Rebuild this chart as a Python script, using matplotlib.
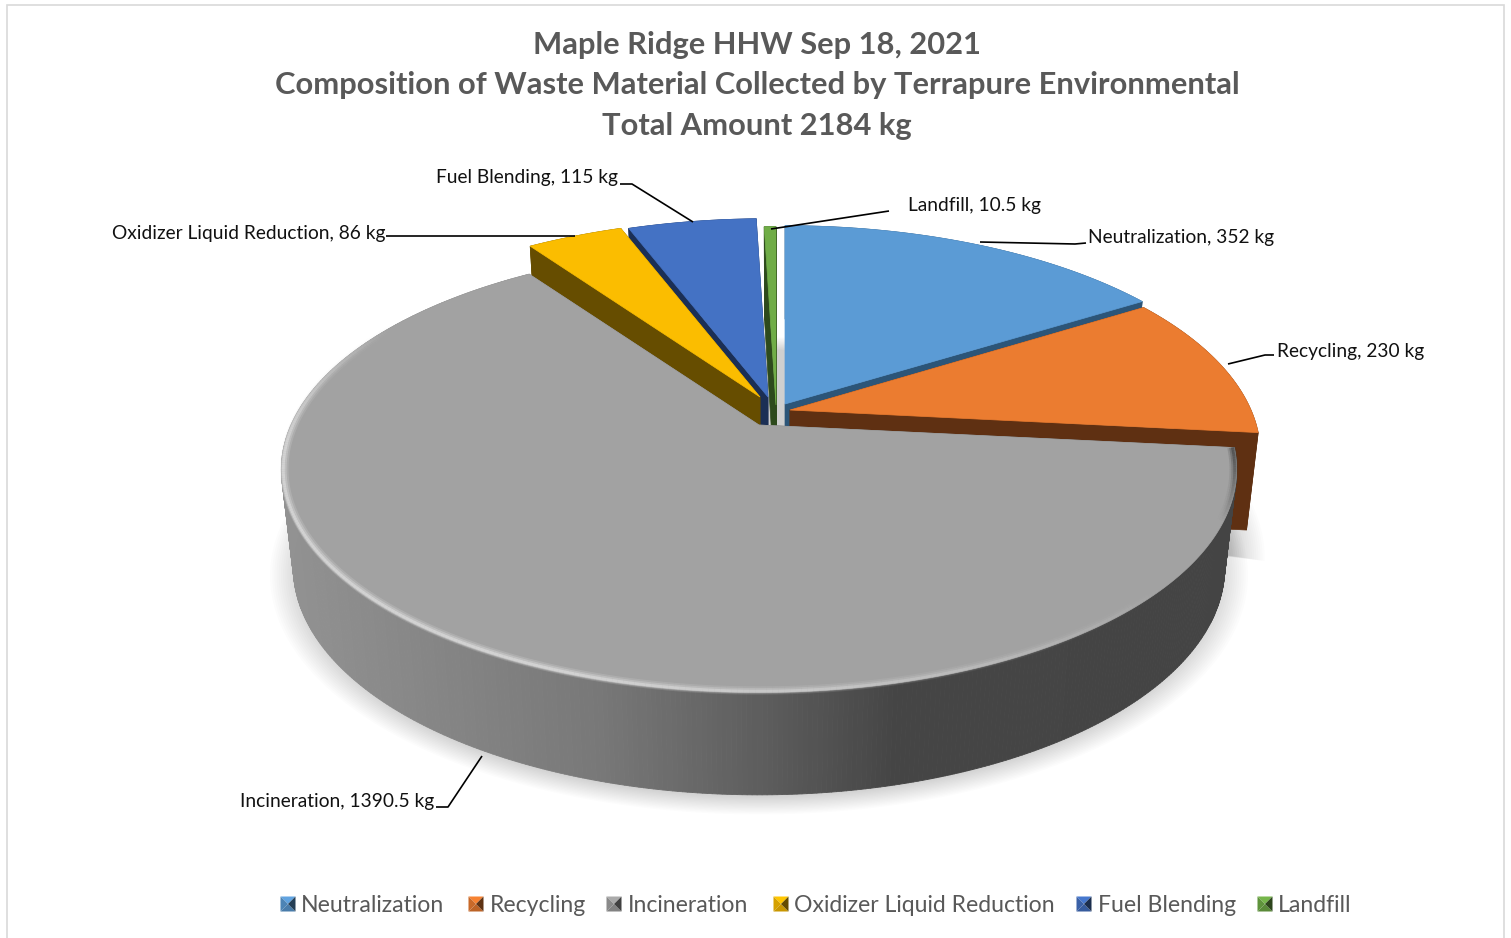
import numpy as np
import matplotlib
matplotlib.use("Agg")
import matplotlib.pyplot as plt
from matplotlib.collections import LineCollection, PolyCollection
from matplotlib.patches import Rectangle

plt.rcParams['font.family'] = ['Lato', 'DejaVu Sans']

# data
names = ['Neutralization', 'Recycling', 'Incineration', 'Oxidizer Liquid Reduction', 'Fuel Blending', 'Landfill']
values = [352, 230, 1390.5, 86, 115, 10.5]
title_lines = ['Maple Ridge HHW Sep 18, 2021',
               'Composition of Waste Material Collected by Terrapure Environmental',
               'Total Amount 2184 kg']

top_colors = ['#5b9bd5', '#eb7c30', '#a2a2a2', '#fbbd00', '#4472c4', '#70ad47']
wall_colors = ['#2c5578', '#5f3012', '#6a6a6a', '#664d00', '#1b2f55', '#2d4a1c']
# where each slice's tip sits, px (exploded slices), and its size
tips = [(785, 404), (790, 410), (759, 425), (760, 397), (768, 397), (776, 405)]
sizes = [0.995, 0.985, 1.0, 1, 1, 1]
draw_order = [0, 5, 4, 3, 1, 2]

# label position, leader line
label_pos = [(1088, 238, 'left'), (1277, 351, 'left'), (434, 802, 'right'),
             (386, 233, 'right'), (618, 178, 'right'), (908, 205, 'left')]
leaders = [[(980, 242), (1075, 244), (1086, 243)],
           [(1228, 364), (1265, 355), (1274, 355)],
           [(482, 756), (448, 807), (436, 807)],
           [(386, 236), (575, 236)],
           [(620, 184), (632, 184), (693, 222)],
           [(771, 229), (889, 211)]]
legend_marker_x = [288, 476, 614, 781, 1084, 1265]
legend_text_x = [301, 490, 628, 794, 1098, 1278]

A, B, k = 468, 214, 0.2
A_low, B_low, drop = A * 0.975, B * 1.02, 97


def top_pt(t, i, r=1.0):
    t = np.radians(t)
    w = 1 + k * r * np.cos(t)
    return tips[i][0] + sizes[i] * A * r * np.sin(t) / w, tips[i][1] - B * r * np.cos(t) / w


def low_pt(t, i, r=1.0):
    t = np.radians(t)
    w = 1 + k * r * np.cos(t)
    return tips[i][0] + sizes[i] * A_low * r * np.sin(t) / w, tips[i][1] + drop - B_low * r * np.cos(t) / w


fig = plt.figure(figsize=(15.11, 9.38), dpi=100)
ax = fig.add_axes([0, 0, 1, 1])
ax.set_xlim(0, 1511)
ax.set_ylim(938, 0)
ax.axis('off')

ax.add_patch(Rectangle((7, 5), 1497, 960, fc='white', ec='#d9d9d9', lw=1.2, zorder=0))

angles = np.cumsum([0] + values) / sum(values) * 360

# soft shadow under the pie
th = np.linspace(0, 360, 361)
for s in np.linspace(1.05, 0.98, 16):
    x, y = low_pt(th, 2)
    x = tips[2][0] + (x - tips[2][0]) * s
    y = tips[2][1] + drop + 6 + (y - tips[2][1] - drop) * s
    ax.fill(x, y, color='black', alpha=0.012, lw=0, zorder=1)
    # same for the pulled out orange slice, the later rounds shrink so the end fades
    x, y = low_pt(np.linspace(angles[1], angles[2] + 6 * s, 40), 1)
    x = tips[1][0] + (x - tips[1][0]) * (s - 0.015)
    y = tips[1][1] + drop + 4 + (y - tips[1][1] - drop) * (s - 0.015)
    ax.fill(np.r_[tips[1][0], x], np.r_[tips[1][1] + drop, y], color='black', alpha=0.012, lw=0, zorder=1)

z = 2
for i in draw_order:
    a0, a1 = angles[i], angles[i + 1]
    tip = tips[i]
    arc = np.linspace(a0, a1, max(int(a1 - a0) * 2, 4))
    wall = wall_colors[i]
    # cut faces
    for a in (a0, a1):
        p0 = top_pt(a, i)
        p1 = low_pt(a, i)
        p2 = low_pt(a, i, 0)
        ax.fill([tip[0], p0[0], p1[0], p2[0]], [tip[1], p0[1], p1[1], p2[1]], color=wall, lw=0.5, zorder=z)
    # outer face
    tx, ty = top_pt(arc, i)
    lx, ly = low_pt(arc, i)
    if names[i] == 'Incineration':
        stops_x = [280, 600, 760, 900, 1240]
        stops_g = [0x92, 0x78, 0x5e, 0x45, 0x44]
        polys, cols = [], []
        for j in range(len(arc) - 1):
            polys.append([(tx[j], ty[j]), (tx[j + 1], ty[j + 1]), (lx[j + 1], ly[j + 1]), (lx[j], ly[j])])
            g = np.interp(tx[j], stops_x, stops_g) / 255
            cols.append((g, g, g))
        ax.add_collection(PolyCollection(polys, facecolors=cols, edgecolors=cols, linewidths=0.6, zorder=z))
    else:
        ax.fill(np.r_[tx, lx[::-1]], np.r_[ty, ly[::-1]], color=wall, lw=0.5, zorder=z)
    # top face
    ax.fill(np.r_[tip[0], tx], np.r_[tip[1], ty], color=top_colors[i], lw=0.5, zorder=z + 0.1)

    if names[i] == 'Incineration':
        # bevel along the rim, light on the left, dark on the right
        arc2 = np.linspace(a0, a1, 400)
        for r, lw, al in [(0.994, 6, 0.2), (0.995, 4, 0.35), (0.996, 2, 0.6)]:
            x, y = top_pt(arc2, i, r)
            segs = [[(x[j], y[j]), (x[j + 1], y[j + 1])] for j in range(len(arc2) - 1)]
            cols = []
            for a in arc2[:-1]:
                light = np.interp(a, [130, 200, 265, 300], [0, 1, 1, 0])
                dark = np.interp(a, [96, 104, 114], [1, 0.5, 0])
                if light > 0:
                    cols.append((0.88, 0.88, 0.88, al * light))
                else:
                    cols.append((0.25, 0.25, 0.25, al * dark))
            ax.add_collection(LineCollection(segs, colors=cols, linewidths=lw, zorder=z + 0.2, capstyle='butt'))
    z += 1

# leader lines and labels
for i in range(len(names)):
    xs = [p[0] for p in leaders[i]]
    ys = [p[1] for p in leaders[i]]
    ax.plot(xs, ys, color='black', lw=1.2, zorder=20, solid_capstyle='butt')
    lx, ly, ha = label_pos[i]
    ax.text(lx, ly, f'{names[i]}, {values[i]:g} kg', ha=ha, va='center', fontsize=13.8, color='#111111', zorder=21)

# title
for line, y in zip(title_lines, [45, 85, 126]):
    ax.text(757, y, line, ha='center', va='center', fontsize=22.2, fontweight='bold', color='#595959', zorder=21)

# legend, pyramid style markers
for i in range(len(names)):
    mx, my, h = legend_marker_x[i], 904, 7.5
    c = np.array(matplotlib.colors.to_rgb(top_colors[i]))
    ax.fill([mx - h, mx + h, mx], [my - h, my - h, my], color=np.minimum(c * 1.05, 1), lw=0, zorder=21)
    ax.fill([mx - h, mx - h, mx], [my - h, my + h, my], color=c * 0.85, lw=0, zorder=21)
    ax.fill([mx - h, mx + h, mx], [my + h, my + h, my], color=c * 0.8, lw=0, zorder=21)
    ax.fill([mx + h, mx + h, mx], [my - h, my + h, my], color=c * 0.4, lw=0, zorder=21)
    ax.text(legend_text_x[i], 906, names[i], ha='left', va='center', fontsize=16.6, color='#595959', zorder=21)

fig.savefig('out.png', dpi=100)
